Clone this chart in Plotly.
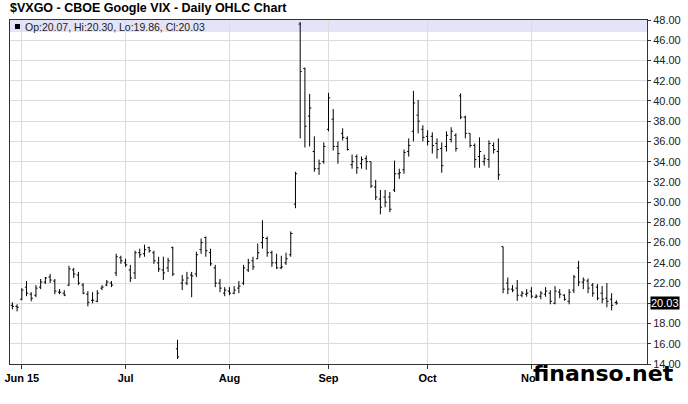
import plotly.graph_objects as go

# trading days shown on the chart (2015)
month_days = {
    "05": [28, 29],
    "06": [1, 2, 3, 4, 5, 8, 9, 10, 11, 12, 15, 16, 17, 18, 19, 22, 23, 24, 25, 26, 29, 30],
    "07": [1, 2, 6, 7, 8, 9, 10, 13, 14, 15, 16, 17, 20, 21, 22, 23, 24, 27, 28, 29, 30, 31],
    "08": [3, 4, 5, 6, 7, 10, 11, 12, 13, 14, 17, 18, 19, 20, 21, 24, 25, 26, 27, 28, 31],
    "09": [1, 2, 3, 4, 8, 9, 10, 11, 14, 15, 16, 17, 18, 21, 22, 23, 24, 25, 28, 29, 30],
    "10": [1, 2, 5, 6, 7, 8, 9, 12, 13, 14, 15, 16, 19, 20, 21, 22, 23, 26, 27, 28, 29, 30],
    "11": [2, 3, 4, 5, 6, 9, 10, 11, 12, 13, 16, 17, 18, 19, 20, 23, 24, 25, 27],
}
dates = ["2015-%s-%02d" % (m, d) for m, days in month_days.items() for d in days]

opens = [19.8, 19.7,
         20.4, 21.6, 20.9, 20.8, 21.6, 22.1, 22.6, 22.2, 21.1, 21.0, 21.8, 23.3, 22.8, 21.8, 20.9,
         20.3, 20.2, 21.5, 21.8, 22.0, 23.0, 24.5,
         24.0, 23.3, 23.0, 25.0, 24.9, 25.5, 25.0, 24.0, 23.3, 23.5, 25.5, 15.5, 22.0, 22.0, 22.8,
         22.9, 25.3, 26.5, 25.0, 23.5, 22.0, 21.0,
         21.2, 21.0, 21.5, 22.0, 23.3, 24.2, 24.4, 26.0, 26.4, 25.0, 24.0, 23.5, 24.0, 24.8, 29.8,
         47.6, 43.2, 38.5, 35.0, 33.3, 34.0,
         37.2, 38.2, 35.5, 36.8, 36.3, 33.7, 34.5, 33.8, 34.3, 34.0, 31.5, 30.3, 30.5, 30.5, 31.2,
         32.8, 33.2, 35.0, 37.0, 38.6, 37.2,
         36.5, 36.5, 35.8, 35.3, 35.5, 36.2, 36.6, 40.5, 38.4, 36.8, 35.6, 34.5, 34.0, 34.2, 35.6,
         35.0, 25.6, 22.0, 21.4, 21.5, 20.8, 20.9,
         21.2, 20.6, 20.7, 20.9, 21.0, 20.0, 21.1, 20.8, 20.2, 21.3, 23.5, 22.1, 22.2, 21.8, 21.6,
         21.0, 20.5, 20.4, 20.07]
highs = [20.1, 19.9,
         21.5, 22.2, 21.1, 21.8, 22.4, 22.6, 22.9, 22.4, 21.4, 21.3, 23.7, 23.5, 23.1, 22.0, 21.2,
         21.1, 21.3, 21.8, 22.3, 22.2, 24.9, 24.7,
         24.4, 23.8, 25.2, 25.4, 25.8, 25.6, 25.2, 24.6, 24.6, 24.5, 25.6, 16.4, 22.8, 23.1, 23.1,
         25.1, 26.4, 26.6, 25.4, 23.8, 22.4, 21.6,
         21.6, 21.7, 22.2, 23.8, 24.4, 24.6, 25.9, 28.2, 26.6, 25.2, 24.9, 24.7, 25.0, 27.1, 33.0,
         47.8, 43.3, 40.7, 36.5, 34.2, 35.9,
         40.8, 39.2, 36.0, 37.3, 36.5, 34.7, 34.7, 34.5, 34.6, 34.0, 32.2, 31.2, 31.2, 31.0, 34.1,
         33.3, 35.2, 36.3, 41.0, 40.1, 37.6,
         37.1, 36.9, 36.3, 35.9, 37.0, 37.4, 36.8, 40.75, 38.55, 36.8, 35.8, 36.4, 34.7, 36.1, 35.9,
         36.3, 25.6, 22.55, 21.8, 22.3, 21.2, 21.4,
         21.6, 20.9, 21.2, 21.6, 21.3, 21.7, 21.4, 20.9, 21.4, 22.8, 24.2, 22.55, 22.45, 22.0, 21.9,
         21.7, 22.0, 21.0, 20.30]
lows = [19.4, 19.2,
        20.3, 20.7, 20.2, 20.6, 21.4, 21.9, 22.0, 20.9, 20.9, 20.7, 21.7, 22.5, 21.8, 20.9, 19.7,
        20.0, 20.1, 21.3, 21.7, 21.6, 22.7, 23.9,
        23.6, 22.1, 22.4, 24.5, 24.6, 25.0, 23.9, 23.1, 22.3, 23.1, 22.7, 14.5, 21.3, 21.8, 20.6,
        22.6, 24.9, 24.6, 23.7, 21.6, 21.1, 20.7,
        20.8, 20.9, 21.0, 21.8, 23.1, 23.3, 24.4, 25.4, 24.6, 23.6, 23.4, 23.4, 23.8, 24.6, 29.4,
        36.3, 35.4, 35.5, 33.0, 32.7, 33.8,
        37.0, 35.1, 33.8, 36.1, 35.1, 33.3, 32.8, 33.3, 33.2, 31.4, 30.2, 28.8, 29.5, 29.0, 31.0,
        32.3, 32.8, 34.5, 36.0, 36.8, 36.0,
        35.6, 34.8, 34.3, 32.9, 35.0, 35.9, 35.0, 38.2, 36.3, 35.4, 33.4, 33.4, 33.6, 33.4, 34.8,
        32.2, 21.0, 20.9, 21.1, 20.25, 20.6, 20.65,
        20.5, 20.5, 20.4, 20.65, 19.9, 19.9, 20.5, 20.25, 19.9, 21.0, 21.7, 21.4, 21.0, 20.65, 20.3,
        20.0, 19.6, 19.3, 19.86]
closes = [19.7, 19.6,
          21.3, 21.0, 20.5, 21.5, 22.1, 22.5, 22.3, 21.2, 21.1, 20.8, 23.4, 22.9, 22.0, 21.0, 20.1,
          20.3, 21.0, 21.6, 22.1, 21.8, 24.6, 24.2,
          23.8, 22.5, 25.0, 24.8, 25.3, 25.2, 24.2, 23.4, 23.0, 24.2, 22.9, 14.7, 22.3, 22.5, 22.7,
          24.8, 26.0, 25.2, 23.9, 22.0, 21.5, 21.3,
          21.0, 21.3, 21.7, 23.5, 24.0, 23.6, 25.0, 26.5, 25.0, 24.0, 23.5, 23.6, 24.4, 26.9, 32.8,
          42.9, 37.5, 39.3, 33.3, 33.8, 35.5,
          40.3, 35.5, 34.8, 36.4, 35.2, 34.0, 33.4, 34.2, 34.0, 31.6, 30.5, 29.5, 30.0, 29.3, 32.8,
          32.9, 34.9, 35.6, 39.8, 38.0, 36.4,
          36.0, 35.6, 35.2, 33.6, 36.6, 37.0, 35.3, 38.4, 36.8, 35.6, 34.2, 35.0, 34.3, 35.8, 35.2,
          32.7, 21.4, 21.4, 21.3, 20.8, 21.0, 21.0,
          20.7, 20.7, 21.0, 21.2, 20.2, 21.2, 20.9, 20.4, 21.1, 22.6, 22.1, 22.3, 21.5, 21.0, 20.5,
          20.4, 20.2, 19.8, 20.03]

month_ticks = ["2015-06-01", "2015-07-01", "2015-08-03", "2015-09-01", "2015-10-01", "2015-11-02"]
month_labels = ["Jun 15", "Jul", "Aug", "Sep", "Oct", "Nov"]

price_ticks = list(range(14, 49, 2))
# the 20.00 label is hidden behind the last-price box in the original
price_labels = ["" if v == 20 else "%.2f" % v for v in price_ticks]

last = dict(o=opens[-1], h=highs[-1], l=lows[-1], c=closes[-1])

fig = go.Figure()
fig.add_trace(go.Ohlc(x=dates, open=opens, high=highs, low=lows, close=closes,
                      increasing=dict(line=dict(color="black", width=1)),
                      decreasing=dict(line=dict(color="black", width=1)),
                      tickwidth=0.35, hoverinfo="skip", showlegend=False))

# lavender header band with the last bar's values
fig.add_shape(type="rect", xref="paper", yref="paper", x0=0, x1=1, y0=1 - 12 / 344, y1=1,
              fillcolor="#e4e4f8", line_width=0, layer="between")
fig.add_shape(type="rect", xref="paper", yref="paper", x0=5 / 637, x1=10 / 637,
              y0=(364 - 29) / 344, y1=(364 - 24) / 344, fillcolor="black", line_width=0)
fig.add_annotation(xref="paper", yref="paper", x=13 / 637, y=(364 - 26.5) / 344,
                   xanchor="left", yanchor="middle", showarrow=False,
                   text="Op:%.2f, Hi:%.2f, Lo:%.2f, Cl:%.2f" % (last["o"], last["h"], last["l"], last["c"]),
                   font=dict(family="Liberation Sans", size=10.5, color="#222"))

# last price marker on the right axis
fig.add_annotation(xref="paper", yref="y", x=1, y=closes[-1], xanchor="left", xshift=3,
                   showarrow=False, text="%.2f" % closes[-1], bgcolor="black", borderpad=0,
                   font=dict(family="Liberation Sans", size=11, color="white"))

# watermark, it hides the end of the "Nov" label
fig.add_shape(type="rect", xref="paper", yref="paper", x0=(535.5 - 10) / 637, x1=(544 - 10) / 637,
              y0=-5 / 344, y1=-20 / 344, fillcolor="white", line_width=0, layer="above")
fig.add_annotation(xref="paper", yref="paper", x=521 / 637, y=-9 / 344,
                   xanchor="left", yanchor="middle", showarrow=False,
                   text="<b>finanso.net</b>",
                   font=dict(family="DejaVu Sans", size=22, color="black"))

fig.update_layout(
    width=688, height=404,
    margin=dict(l=10, r=41, t=20, b=40, autoexpand=False),
    plot_bgcolor="white", paper_bgcolor="white",
    title=dict(text="$VXGO - CBOE Google VIX - Daily OHLC Chart",
               x=10 / 688, xanchor="left", y=1 - 8 / 404, yanchor="middle",
               font=dict(family="Liberation Sans", size=12.5, color="black", weight="bold")),
    xaxis=dict(type="category", range=[-0.5, 134.5], tickvals=month_ticks, ticktext=month_labels,
               rangeslider=dict(visible=False), showgrid=True, gridcolor="#dcdcdc", automargin=False,
               ticks="outside", ticklen=4, tickcolor="#333", showline=True, linecolor="#333",
               mirror=True, tickfont=dict(family="Liberation Sans", size=11, color="black", weight="bold")),
    yaxis=dict(side="right", range=[14, 48], tickvals=price_ticks, ticktext=price_labels,
               showgrid=True, gridcolor="#dcdcdc", zeroline=False, automargin=False,
               ticks="outside", ticklen=3, tickcolor="#333", showline=True, linecolor="#333",
               mirror=True, tickfont=dict(family="Liberation Sans", size=11, color="#222")),
)

# the page's default body margin would shift the chart by 8px
fig.write_html("out.html", config={"displayModeBar": False},
               post_script="document.body.style.margin = '0';")
